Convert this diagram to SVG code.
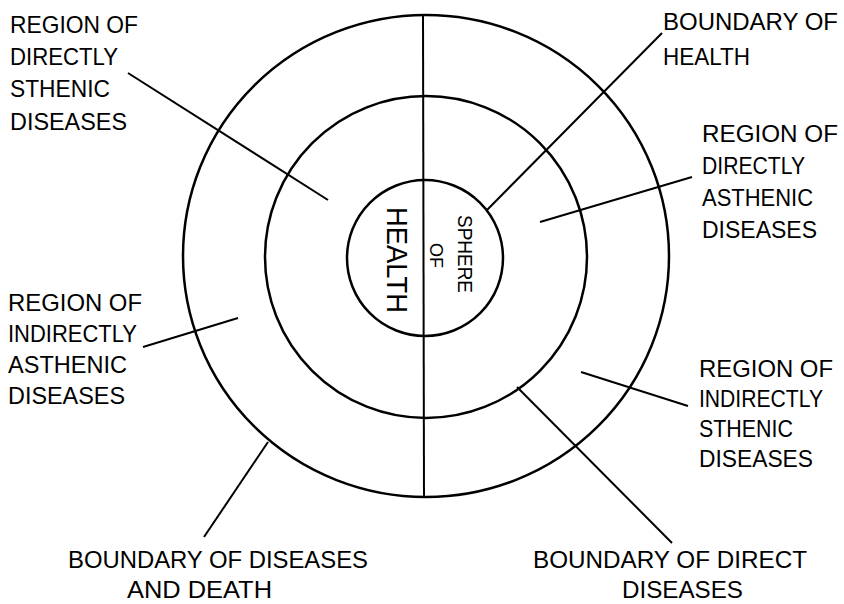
<svg xmlns="http://www.w3.org/2000/svg" width="844" height="604" viewBox="0 0 844 604">
<style>
.c{fill:none;stroke:#000;stroke-width:2.5}
.l{fill:none;stroke:#000;stroke-width:2}
text{font-family:"Liberation Sans",Arial,sans-serif;font-size:24px;fill:#000}
.s{font-size:21px}
.o{font-size:18px}
.h{font-size:29px}
</style>
<rect width="844" height="604" fill="#fff"/>
<g id="circles">
<ellipse id="outer" class="c" cx="426" cy="256" rx="243" ry="241"/>
<circle id="middle" class="c" cx="426" cy="257" r="161"/>
<circle id="inner" class="c" cx="425" cy="258" r="78"/>
<line class="l" x1="423" y1="15" x2="424" y2="497"/>
</g>
<g id="connectors">
<line class="l" x1="128" y1="73" x2="328" y2="200"/>
<line class="l" x1="662" y1="33" x2="487" y2="210"/>
<line class="l" x1="540" y1="222" x2="692" y2="177"/>
<line class="l" x1="143" y1="347" x2="238" y2="318"/>
<line class="l" x1="581" y1="372" x2="688" y2="406"/>
<line class="l" x1="517" y1="387" x2="672" y2="543"/>
<line class="l" x1="268" y1="442" x2="204" y2="537"/>
</g>
<g id="center-label">
<text class="h" transform="rotate(90 387 207)" x="387" y="207" textLength="106" lengthAdjust="spacingAndGlyphs">HEALTH</text>
<text class="o" transform="rotate(90 430 243)" x="430" y="243" textLength="25" lengthAdjust="spacingAndGlyphs">OF</text>
<text class="s" transform="rotate(90 458 215)" x="458" y="215" textLength="78" lengthAdjust="spacingAndGlyphs">SPHERE</text>
</g>
<g id="directly-sthenic">
<text x="10" y="33" textLength="128" lengthAdjust="spacingAndGlyphs">REGION OF</text>
<text x="10" y="65" textLength="108" lengthAdjust="spacingAndGlyphs">DIRECTLY</text>
<text x="10" y="97" textLength="100" lengthAdjust="spacingAndGlyphs">STHENIC</text>
<text x="10" y="130" textLength="117" lengthAdjust="spacingAndGlyphs">DISEASES</text>
</g>
<g id="boundary-health">
<text x="663" y="30" textLength="175" lengthAdjust="spacingAndGlyphs">BOUNDARY OF</text>
<text x="663" y="65" textLength="87" lengthAdjust="spacingAndGlyphs">HEALTH</text>
</g>
<g id="directly-asthenic">
<text x="702" y="142" textLength="136" lengthAdjust="spacingAndGlyphs">REGION OF</text>
<text x="702" y="174" textLength="103" lengthAdjust="spacingAndGlyphs">DIRECTLY</text>
<text x="702" y="206" textLength="111" lengthAdjust="spacingAndGlyphs">ASTHENIC</text>
<text x="702" y="238" textLength="115" lengthAdjust="spacingAndGlyphs">DISEASES</text>
</g>
<g id="indirectly-asthenic">
<text x="8" y="311" textLength="134" lengthAdjust="spacingAndGlyphs">REGION OF</text>
<text x="8" y="342" textLength="129" lengthAdjust="spacingAndGlyphs">INDIRECTLY</text>
<text x="8" y="373" textLength="119" lengthAdjust="spacingAndGlyphs">ASTHENIC</text>
<text x="8" y="404" textLength="117" lengthAdjust="spacingAndGlyphs">DISEASES</text>
</g>
<g id="indirectly-sthenic">
<text x="699" y="377" textLength="134" lengthAdjust="spacingAndGlyphs">REGION OF</text>
<text x="699" y="407" textLength="124" lengthAdjust="spacingAndGlyphs">INDIRECTLY</text>
<text x="699" y="437" textLength="94" lengthAdjust="spacingAndGlyphs">STHENIC</text>
<text x="699" y="467" textLength="114" lengthAdjust="spacingAndGlyphs">DISEASES</text>
</g>
<g id="boundary-death">
<text x="68" y="568" textLength="300" lengthAdjust="spacingAndGlyphs">BOUNDARY OF DISEASES</text>
<text x="127" y="598" textLength="145" lengthAdjust="spacingAndGlyphs">AND DEATH</text>
</g>
<g id="boundary-direct">
<text x="533" y="568" textLength="274" lengthAdjust="spacingAndGlyphs">BOUNDARY OF DIRECT</text>
<text x="622" y="598" textLength="121" lengthAdjust="spacingAndGlyphs">DISEASES</text>
</g>
</svg>
